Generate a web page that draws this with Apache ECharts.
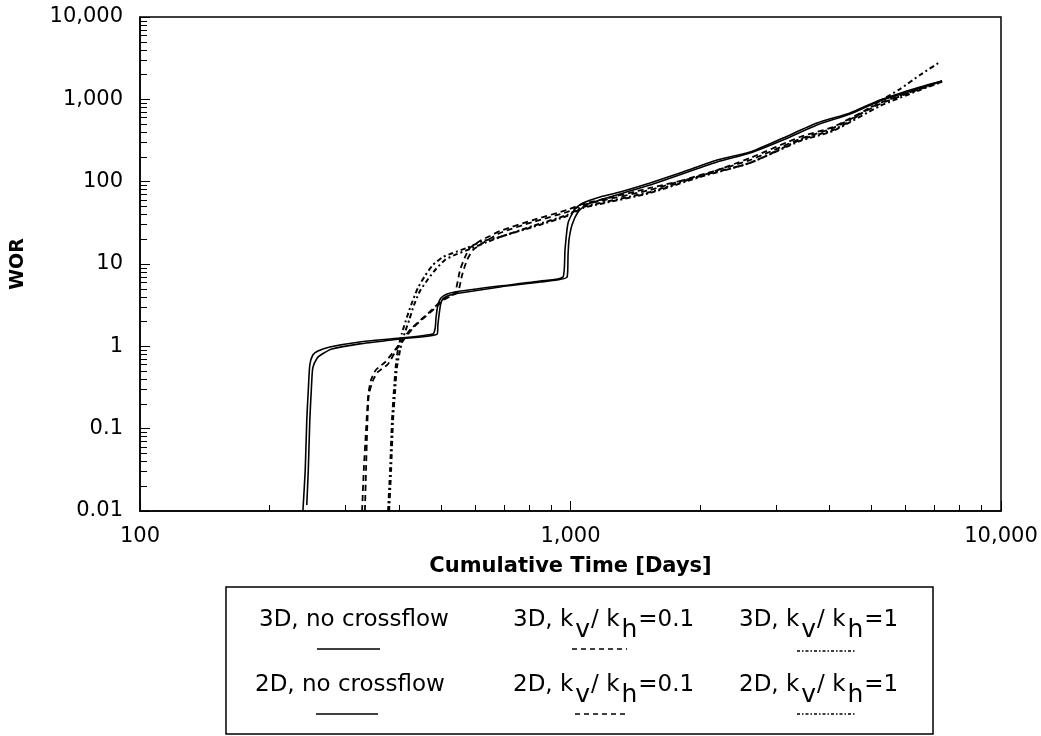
<!DOCTYPE html>
<html>
<head>
<meta charset="utf-8">
<script src="https://cdn.jsdelivr.net/npm/echarts@6/dist/echarts.min.js"></script>
<style>
html,body{margin:0;padding:0;background:#fff;}
#chart{width:1041px;height:736px;}
</style>
</head>
<body>
<div id="chart"></div>
<script>
// ---- tick values & labels ----
const xTickValues = [100, 1000, 10000];
const xTickLabels = ['100', '1,000', '10,000'];
const xMinorTicks = [200,300,400,500,600,700,800,900,2000,3000,4000,5000,6000,7000,8000,9000];
const yTickValues = [0.01, 0.1, 1, 10, 100, 1000, 10000];
const yTickLabels = ['0.01', '0.1', '1', '10', '100', '1,000', '10,000'];
const yMinorTicks = [0.02,0.03,0.04,0.05,0.06,0.07,0.08,0.09,0.2,0.3,0.4,0.5,0.6,0.7,0.8,0.9,
  2,3,4,5,6,7,8,9,20,30,40,50,60,70,80,90,200,300,400,500,600,700,800,900,
  2000,3000,4000,5000,6000,7000,8000,9000];

// ---- series names ----
const seriesNames = ['3D, no crossflow', '2D, no crossflow', '3D, kv/kh=0.1', '2D, kv/kh=0.1', '3D, kv/kh=1', '2D, kv/kh=1'];

// ---- series values [cumulative time (days), WOR] ----
const s3DNoCross = [[239,0.01],[242,0.0315],[244,0.127],[246,0.295],[248,0.593],[252,0.785],[259,0.878],[276,0.982],[324,1.13],[402,1.26],[479,1.41],[485,1.67],[487,2.21],[492,3.18],[500,3.87],[517,4.32],[539,4.57],[686,5.41],[850,6.22],[961,6.95],[971,14.8],[987,31.5],[1024,46.6],[1069,55.1],[1171,65.2],[1303,74.9],[1530,96.4],[1825,131],[2190,183],[2612,229],[3116,339],[3738,516],[4461,683],[5235,982],[6486,1413],[7295,1671]];
const s2DNoCross = [[244,0.0118],[246,0.0315],[248,0.127],[250,0.295],[252,0.546],[258,0.722],[265,0.807],[279,0.928],[324,1.07],[402,1.23],[490,1.41],[492,1.82],[495,2.40],[500,3.36],[508,3.87],[525,4.20],[554,4.44],[686,5.26],[850,6.05],[982,6.95],[987,12.9],[992,19.6],[1008,29.8],[1041,42.8],[1086,52.1],[1171,59.9],[1530,91],[2190,173],[2612,223],[3116,321],[3738,488],[4461,664],[5235,955],[6486,1374],[7295,1671]];
const s3DKv01 = [[328,0.01],[331,0.0315],[335,0.0963],[339,0.256],[344,0.390],[353,0.516],[371,0.645],[391,0.903],[408,1.23],[428,1.67],[454,2.21],[479,2.84],[503,3.66],[525,4.09],[539,4.44],[554,8.46],[569,12.2],[584,15.7],[616,19.0],[650,21.9],[686,25.2],[818,34.2],[982,45.3],[1069,53.6],[1171,59.9],[1530,83.8],[1999,117],[2612,194],[3413,349],[4072,462],[5235,903],[6486,1336],[7295,1625]];
const s2DKv01 = [[333,0.01],[335,0.0315],[337,0.0963],[340,0.256],[348,0.390],[357,0.488],[377,0.610],[395,0.928],[413,1.26],[433,1.72],[459,2.27],[485,2.92],[508,3.66],[533,4.20],[548,4.57],[560,7.35],[575,11.2],[594,14.8],[626,18.0],[686,23.8],[818,32.4],[982,42.8],[1069,52.1],[1171,58.3],[1530,79.3],[1999,120],[2612,183],[3413,330],[4072,449],[5235,878],[6486,1336],[7295,1671]];
const s3DKv1 = [[377,0.01],[381,0.0315],[385,0.127],[389,0.295],[393,0.593],[398,0.955],[406,1.45],[417,2.27],[428,3.36],[442,5.11],[459,7.15],[479,9.73],[506,12.2],[533,13.6],[575,15.7],[626,19.0],[686,21.3],[818,29.0],[982,39.4],[1069,49.3],[1171,55.1],[1530,74.9],[1999,117],[2612,169],[3413,321],[4072,424],[4461,546],[4831,722],[5235,955],[5827,1336],[6486,1976],[7217,2842]];
const s2DKv1 = [[379,0.01],[383,0.0315],[387,0.127],[391,0.271],[395,0.546],[402,0.903],[410,1.34],[422,2.09],[433,3.18],[447,4.70],[467,6.58],[487,8.70],[511,11.2],[539,12.9],[584,15.2],[640,18.5],[697,21.9],[818,28.2],[982,38.3],[1069,47.9],[1171,53.6],[1530,72.9],[1999,114],[2612,169],[3413,312],[4072,413],[5235,830],[6486,1299],[7295,1625]];

function lookupLabel(values, labels, v) {
  for (let i = 0; i < values.length; i++) {
    if (Math.abs(Math.log10(v) - Math.log10(values[i])) < 1e-6) return labels[i];
  }
  return '';
}

const FONT = 'DejaVu Sans';
const LEG_SIZE = 23;
const SUB_SIZE = 25;
const measureCtx = document.createElement('canvas').getContext('2d');
function textWidth(txt, size) {
  measureCtx.font = size + 'px "' + FONT + '"';
  return measureCtx.measureText(txt).width;
}

const chart = echarts.init(document.getElementById('chart'), null, {renderer: 'canvas'});

const lineStyles = {
  solid: {color: '#000', width: 1.6, type: 'solid'},
  dashed: {color: '#000', width: 1.8, type: [6, 4]},
  dashdot: {color: '#000', width: 2, type: [5, 3, 2, 3]}
};

function mkSeries(name, data, style) {
  return {
    name: name, type: 'line', data: data, xAxisIndex: 0, yAxisIndex: 0,
    showSymbol: false, symbol: 'none', smooth: 0.2, clip: true,
    lineStyle: style, z: 5, silent: true
  };
}

const baseX = {type: 'log', logBase: 10, min: 100, max: 10000, gridIndex: 0};
const baseY = {type: 'log', logBase: 10, min: 0.01, max: 10000, gridIndex: 0};

function textEl(x, y, txt, size) {
  return {type: 'text', x: x, y: y, z: 20,
    style: {text: txt, fontSize: size, fontFamily: FONT, fill: '#000', align: 'left', verticalAlign: 'middle'}};
}
function plainText(x, y, txt) {
  return textEl(x, y, txt, LEG_SIZE);
}
// "pre, k_v / k_h = post" with enlarged, lowered v and h
function kvText(x, yc, pre, post) {
  const parts = [
    [pre + ', k', LEG_SIZE, 0],
    ['v', SUB_SIZE, 10],
    ['/ k', LEG_SIZE, 0],
    ['h', SUB_SIZE, 10],
    ['=' + post, LEG_SIZE, 0]
  ];
  const gaps = [2, 1, 2, 1, 0];
  const els = [];
  let cx = x;
  parts.forEach(function (p, i) {
    els.push(textEl(cx, yc + p[2], p[0], p[1]));
    cx += textWidth(p[0], p[1]) + gaps[i];
  });
  return els;
}
function sample(x1, x2, y, dash) {
  return {type: 'line', shape: {x1: x1, y1: y, x2: x2, y2: y}, style: {stroke: '#000', lineWidth: 1.6, lineDash: dash}, z: 20};
}

const graphics = [
  {type: 'rect', shape: {x: 226, y: 587, width: 707, height: 147}, style: {fill: '#fff', stroke: '#000', lineWidth: 1.5}, z: 10},
  plainText(259, 620, '3D, no crossflow'),
  plainText(255, 685, '2D, no crossflow'),
  sample(317, 380, 649, null),
  sample(572, 627, 649, [5, 4]),
  sample(797, 855, 651, [3, 2, 1.5, 2]),
  sample(316, 378, 714, null),
  sample(575, 629, 714, [5, 4]),
  sample(797, 855, 714, [3, 2, 1.5, 2])
].concat(kvText(513, 620, '3D', '0.1'), kvText(739, 620, '3D', '1'),
         kvText(513, 685, '2D', '0.1'), kvText(739, 685, '2D', '1'));

const option = {
  animation: false,
  backgroundColor: '#fff',
  grid: {left: 140, right: 40, top: 17, bottom: 225, show: true, borderColor: '#000', borderWidth: 1.5, backgroundColor: 'transparent', outerBoundsMode: 'none', containLabel: false},
  xAxis: [
    Object.assign({}, baseX, {
      position: 'bottom',
      name: 'Cumulative Time [Days]', nameLocation: 'middle', nameGap: 45,
      nameTextStyle: {fontFamily: FONT, fontWeight: 'bold', fontSize: 21, color: '#000'},
      axisLine: {show: true, lineStyle: {color: '#000', width: 1.5}},
      axisTick: {show: true, inside: true, length: 10, lineStyle: {color: '#000', width: 1}, customValues: xTickValues},
      axisLabel: {show: true, color: '#000', fontFamily: FONT, fontSize: 21, margin: 15, customValues: xTickValues,
        formatter: function (v) { return lookupLabel(xTickValues, xTickLabels, v); }},
      splitLine: {show: false}, minorTick: {show: false}, minorSplitLine: {show: false}
    }),
    Object.assign({}, baseX, {
      position: 'bottom',
      axisLine: {show: false},
      axisTick: {show: true, inside: true, length: 6, lineStyle: {color: '#000', width: 1}, customValues: xMinorTicks},
      axisLabel: {show: false}, splitLine: {show: false}
    })
  ],
  yAxis: [
    Object.assign({}, baseY, {
      position: 'left',
      name: 'WOR', nameLocation: 'middle', nameGap: 112, nameRotate: 90,
      nameTextStyle: {fontFamily: FONT, fontWeight: 'bold', fontSize: 19, color: '#000'},
      axisLine: {show: true, lineStyle: {color: '#000', width: 1.5}},
      axisTick: {show: true, inside: true, length: 10, lineStyle: {color: '#000', width: 1}, customValues: yTickValues},
      axisLabel: {show: true, color: '#000', fontFamily: FONT, fontSize: 21, margin: 17, customValues: yTickValues,
        formatter: function (v) { return lookupLabel(yTickValues, yTickLabels, v); }},
      splitLine: {show: false}, minorTick: {show: false}
    }),
    Object.assign({}, baseY, {
      position: 'left',
      axisLine: {show: false},
      axisTick: {show: true, inside: true, length: 7, lineStyle: {color: '#000', width: 1}, customValues: yMinorTicks},
      axisLabel: {show: false}, splitLine: {show: false}
    })
  ],
  series: [
    mkSeries(seriesNames[0], s3DNoCross, lineStyles.solid),
    mkSeries(seriesNames[1], s2DNoCross, lineStyles.solid),
    mkSeries(seriesNames[2], s3DKv01, lineStyles.dashed),
    mkSeries(seriesNames[3], s2DKv01, lineStyles.dashed),
    mkSeries(seriesNames[4], s3DKv1, lineStyles.dashdot),
    mkSeries(seriesNames[5], s2DKv1, lineStyles.dashdot)
  ],
  graphic: graphics
};
chart.setOption(option);
</script>
</body>
</html>
